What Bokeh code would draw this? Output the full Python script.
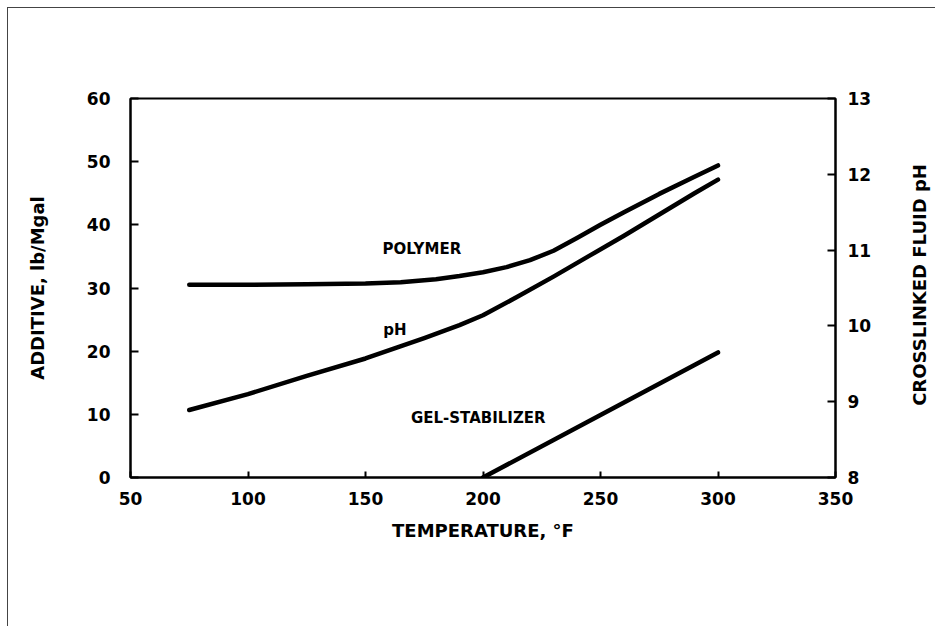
import math
from bokeh.plotting import figure
from bokeh.layouts import row
from bokeh.models import Range1d, LinearAxis, FixedTicker, ColumnDataSource, Label
from bokeh.core.properties import value
from bokeh.embed import file_html
from bokeh.resources import INLINE

# ---- data ----
x_ticks = [50, 100, 150, 200, 250, 300, 350]
additive_ticks = [0, 10, 20, 30, 40, 50, 60]
ph_ticks = [8, 9, 10, 11, 12, 13]

polymer_temp = [75, 100, 125, 150, 165, 180, 190, 200, 210, 220, 230, 240, 250, 260, 275, 290, 300]
polymer_lb = [30.5, 30.5, 30.6, 30.7, 30.9, 31.4, 31.9, 32.5, 33.3, 34.4, 35.9, 37.9, 40.0, 42.0, 44.9, 47.6, 49.4]

ph_temp = [75, 100, 125, 150, 175, 190, 200, 215, 230, 245, 260, 275, 290, 300]
ph_value = [8.89, 9.10, 9.34, 9.57, 9.84, 10.01, 10.14, 10.39, 10.65, 10.92, 11.19, 11.47, 11.75, 11.93]

gel_temp = [200, 250, 300]
gel_lb = [0.0, 9.9, 19.8]

label_text = ["POLYMER", "pH", "GEL-STABILIZER"]
label_temp = [174, 162.5, 198]
label_y = [36.2, 23.4, 9.4]

FONT = "DejaVu Sans"

p = figure(width=902, height=626, x_range=Range1d(50, 350), y_range=Range1d(0, 60),
           output_backend="svg", toolbar_location=None,
           min_border_left=130, min_border_right=67, min_border_top=98, min_border_bottom=149)
p.extra_y_ranges = {"ph": Range1d(8, 13)}

p.xgrid.visible = False
p.ygrid.visible = False
p.outline_line_color = "black"
p.outline_line_width = 2
p.background_fill_color = "white"
p.border_fill_color = None

def style_axis(ax, ticks, tick_in, standoff, label_standoff):
    ax.ticker = FixedTicker(ticks=ticks)
    ax.minor_tick_line_color = None
    ax.major_tick_in = tick_in
    ax.major_tick_out = 0
    ax.major_tick_line_width = 2
    ax.major_tick_line_color = "black"
    ax.axis_line_width = 2
    ax.axis_line_color = "black"
    ax.major_label_text_font = FONT
    ax.major_label_text_font_style = "bold"
    ax.major_label_text_font_size = "17px"
    ax.major_label_text_color = "black"
    ax.major_label_standoff = standoff
    ax.axis_label_text_font = FONT
    ax.axis_label_text_font_style = "bold"
    ax.axis_label_text_font_size = "18px"
    ax.axis_label_text_color = "black"
    ax.axis_label_standoff = label_standoff

p.xaxis.axis_label = "TEMPERATURE, °F"
style_axis(p.xaxis[0], x_ticks, 6, 14, 12)
p.yaxis.axis_label = "ADDITIVE, lb/Mgal"
style_axis(p.yaxis[0], additive_ticks, 8, 20, 36)

right = LinearAxis(y_range_name="ph")
style_axis(right, ph_ticks, 8, 12, 36)
p.add_layout(right, "right")

p.line(polymer_temp, polymer_lb, line_color="black", line_width=4.5, line_cap="round", line_join="round")
p.line(ph_temp, ph_value, y_range_name="ph", line_color="black", line_width=4.5, line_cap="round", line_join="round")
p.line(gel_temp, gel_lb, line_color="black", line_width=4.5, line_cap="round", line_join="round")

src = ColumnDataSource(dict(x=label_temp, y=label_y, t=label_text))
p.text(x="x", y="y", text="t", source=src, text_font=value(FONT), text_font_style="bold",
       text_font_size="15px", text_align="center", text_baseline="middle", text_color="black")

# narrow strip carrying the right-axis title, reading bottom-to-top as in the reference
p2 = figure(width=33, height=626, x_range=Range1d(0, 33), y_range=Range1d(0, 626),
            output_backend="svg", toolbar_location=None, min_border=0,
            x_axis_location=None, y_axis_location=None)
p2.xgrid.visible = False
p2.ygrid.visible = False
p2.outline_line_color = None
p2.background_fill_color = None
p2.border_fill_color = None
p2.add_layout(Label(x=17, y=318, text="CROSSLINKED FLUID pH", angle=math.pi / 2,
                    text_align="center", text_baseline="middle",
                    text_font=FONT, text_font_style="bold", text_font_size="18px",
                    text_color="black"))

layout = row(p, p2, spacing=0)
layout.styles = {"background": "linear-gradient(#444,#444) 7px 7px/928px 1px no-repeat, "
                               "linear-gradient(#444,#444) 7px 7px/1px 619px no-repeat, white"}

open("out.html", "w").write(file_html(layout, INLINE))
